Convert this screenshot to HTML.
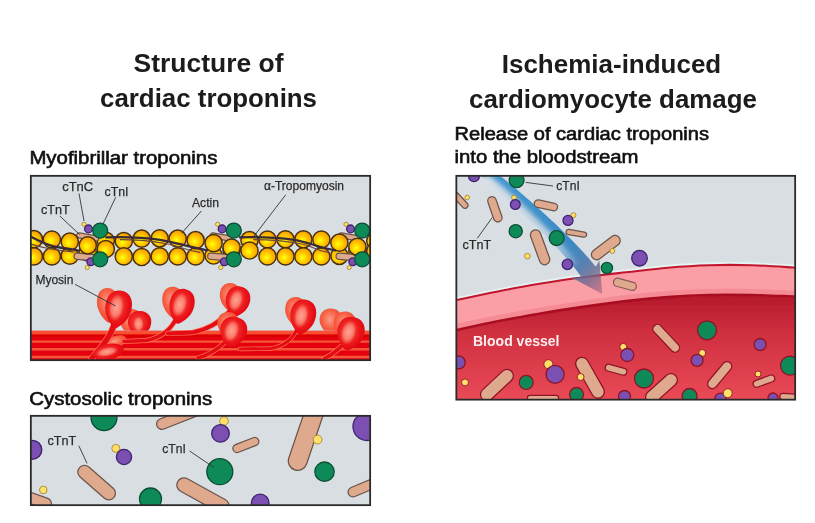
<!DOCTYPE html>
<html lang="en"><head><meta charset="utf-8"><title>Cardiac troponins</title>
<style>html,body{margin:0;padding:0;background:#fff;}svg{display:block;}text{font-family:'Liberation Sans', Arial, Helvetica, sans-serif;}</style></head><body>
<svg width="815" height="523" viewBox="0 0 815 523">
<defs>
<radialGradient id="gBall" cx="43%" cy="57%" r="58%"><stop offset="0" stop-color="#ffff10"/><stop offset="0.25" stop-color="#ffe600"/><stop offset="0.55" stop-color="#ffc200"/><stop offset="0.85" stop-color="#fba600"/><stop offset="1" stop-color="#ee9200"/></radialGradient>
<radialGradient id="gHead" cx="42%" cy="45%" r="62%"><stop offset="0" stop-color="#f4483c"/><stop offset="0.5" stop-color="#ee2424"/><stop offset="0.78" stop-color="#e80c14"/><stop offset="1" stop-color="#de0610"/></radialGradient>
<radialGradient id="gHeadB" cx="45%" cy="40%" r="65%"><stop offset="0" stop-color="#f89c86"/><stop offset="0.5" stop-color="#f86246"/><stop offset="1" stop-color="#ef3a24"/></radialGradient>
<radialGradient id="gHL" cx="50%" cy="50%" r="50%"><stop offset="0" stop-color="#ffa493" stop-opacity="1"/><stop offset="0.6" stop-color="#fc8272" stop-opacity="0.92"/><stop offset="0.85" stop-color="#f6584c" stop-opacity="0.6"/><stop offset="1" stop-color="#f0342e" stop-opacity="0"/></radialGradient>
<linearGradient id="gLumen" x1="0" y1="0" x2="0" y2="1"><stop offset="0" stop-color="#b3192a"/><stop offset="0.35" stop-color="#cf2f3f"/><stop offset="1" stop-color="#ea4a57"/></linearGradient>
<linearGradient id="gArrow" gradientUnits="userSpaceOnUse" x1="490" y1="176" x2="600" y2="292"><stop offset="0" stop-color="#3391cf"/><stop offset="0.66" stop-color="#2a80bf"/><stop offset="0.8" stop-color="#4777ad"/><stop offset="0.89" stop-color="#6f6a90" stop-opacity="0.92"/><stop offset="1" stop-color="#8a5872" stop-opacity="0.55"/></linearGradient>
<linearGradient id="gFade" gradientUnits="userSpaceOnUse" x1="480" y1="176" x2="590" y2="284"><stop offset="0" stop-color="#d9e0e6"/><stop offset="0.62" stop-color="#d3dde6" stop-opacity="0.85"/><stop offset="0.95" stop-color="#cfdce8" stop-opacity="0"/></linearGradient>
<filter id="fBlur3" x="-20%" y="-20%" width="140%" height="140%"><feGaussianBlur stdDeviation="2.6"/></filter>
<filter id="fSoft" x="-2%" y="-2%" width="104%" height="104%"><feGaussianBlur stdDeviation="0.6"/></filter>
<clipPath id="c1"><rect x="31" y="176" width="339" height="184"/></clipPath>
<clipPath id="cb1"><rect x="117" y="330.8" width="38" height="12"/><rect x="316" y="330.8" width="32" height="12"/></clipPath>
<clipPath id="c2"><rect x="31" y="416" width="339" height="89"/></clipPath>
<clipPath id="c3"><rect x="456.5" y="176" width="338.5" height="223.5"/></clipPath>
</defs>
<rect width="815" height="523" fill="#fff"/>
<g filter="url(#fSoft)">
<g font-weight="bold" font-size="26" fill="#1a1a1a" text-anchor="middle">
<text x="208.5" y="72" font-size="26" text-anchor="middle" fill="#1a1a1a" font-weight="bold" textLength="150" lengthAdjust="spacingAndGlyphs" >Structure of</text>
<text x="208.5" y="107" font-size="26" text-anchor="middle" fill="#1a1a1a" font-weight="bold" textLength="217" lengthAdjust="spacingAndGlyphs" >cardiac troponins</text>
<text x="611.5" y="72.5" font-size="26" text-anchor="middle" fill="#1a1a1a" font-weight="bold" textLength="219.5" lengthAdjust="spacingAndGlyphs" >Ischemia-induced</text>
<text x="613" y="107.5" font-size="26" text-anchor="middle" fill="#1a1a1a" font-weight="bold" textLength="288" lengthAdjust="spacingAndGlyphs" >cardiomyocyte damage</text>
</g>
<text x="29.4" y="163.7" font-size="18" text-anchor="start" fill="#111" font-weight="normal" textLength="188" lengthAdjust="spacingAndGlyphs" stroke="#111" stroke-width="0.6">Myofibrillar troponins</text>
<text x="29.2" y="404.8" font-size="18" text-anchor="start" fill="#111" font-weight="normal" textLength="183" lengthAdjust="spacingAndGlyphs" stroke="#111" stroke-width="0.6">Cystosolic troponins</text>
<text x="454.5" y="140.3" font-size="18" text-anchor="start" fill="#111" font-weight="normal" textLength="254.5" lengthAdjust="spacingAndGlyphs" stroke="#111" stroke-width="0.6">Release of cardiac troponins</text>
<text x="454.5" y="162.6" font-size="18" text-anchor="start" fill="#111" font-weight="normal" textLength="184" lengthAdjust="spacingAndGlyphs" stroke="#111" stroke-width="0.6">into the bloodstream</text>
<g id="panel1">
<rect x="30.85" y="175.85" width="339.3" height="184.3" fill="#d9dee2"/>
<g clip-path="url(#c1)">
<circle cx="69.8" cy="255.7" r="8.6" fill="url(#gBall)" stroke="#46300e" stroke-width="1.45"/>
<circle cx="87.8" cy="252.5" r="8.6" fill="url(#gBall)" stroke="#46300e" stroke-width="1.45"/>
<circle cx="105.8" cy="240.8" r="8.6" fill="url(#gBall)" stroke="#46300e" stroke-width="1.45"/>
<circle cx="123.8" cy="241.0" r="8.6" fill="url(#gBall)" stroke="#46300e" stroke-width="1.45"/>
<circle cx="141.7" cy="238.7" r="8.6" fill="url(#gBall)" stroke="#46300e" stroke-width="1.45"/>
<circle cx="159.7" cy="238.3" r="8.6" fill="url(#gBall)" stroke="#46300e" stroke-width="1.45"/>
<circle cx="177.7" cy="238.7" r="8.6" fill="url(#gBall)" stroke="#46300e" stroke-width="1.45"/>
<circle cx="195.6" cy="256.4" r="8.6" fill="url(#gBall)" stroke="#46300e" stroke-width="1.45"/>
<circle cx="213.6" cy="255.5" r="8.6" fill="url(#gBall)" stroke="#46300e" stroke-width="1.45"/>
<circle cx="231.6" cy="250.0" r="8.6" fill="url(#gBall)" stroke="#46300e" stroke-width="1.45"/>
<circle cx="249.5" cy="240.2" r="8.6" fill="url(#gBall)" stroke="#46300e" stroke-width="1.45"/>
<circle cx="267.5" cy="239.5" r="8.6" fill="url(#gBall)" stroke="#46300e" stroke-width="1.45"/>
<circle cx="285.5" cy="239.3" r="8.6" fill="url(#gBall)" stroke="#46300e" stroke-width="1.45"/>
<circle cx="303.4" cy="239.3" r="8.6" fill="url(#gBall)" stroke="#46300e" stroke-width="1.45"/>
<circle cx="321.4" cy="256.4" r="8.6" fill="url(#gBall)" stroke="#46300e" stroke-width="1.45"/>
<circle cx="339.4" cy="255.8" r="8.6" fill="url(#gBall)" stroke="#46300e" stroke-width="1.45"/>
<circle cx="357.4" cy="251.0" r="8.6" fill="url(#gBall)" stroke="#46300e" stroke-width="1.45"/>
<circle cx="375.3" cy="241.0" r="8.6" fill="url(#gBall)" stroke="#46300e" stroke-width="1.45"/>
<line x1="79.2" y1="235.4" x2="96.2" y2="238.5" stroke="#6b554b" stroke-width="6.4" stroke-linecap="round"/><line x1="79.2" y1="235.4" x2="96.2" y2="238.5" stroke="#dfa98e" stroke-width="3.9" stroke-linecap="round"/>
<line x1="77.2" y1="256.2" x2="92.2" y2="257.5" stroke="#6b554b" stroke-width="7.6" stroke-linecap="round"/><line x1="77.2" y1="256.2" x2="92.2" y2="257.5" stroke="#dfa98e" stroke-width="5.1" stroke-linecap="round"/>
<line x1="212.8" y1="235.4" x2="229.8" y2="238.5" stroke="#6b554b" stroke-width="6.4" stroke-linecap="round"/><line x1="212.8" y1="235.4" x2="229.8" y2="238.5" stroke="#dfa98e" stroke-width="3.9" stroke-linecap="round"/>
<line x1="210.8" y1="256.2" x2="225.8" y2="257.5" stroke="#6b554b" stroke-width="7.6" stroke-linecap="round"/><line x1="210.8" y1="256.2" x2="225.8" y2="257.5" stroke="#dfa98e" stroke-width="5.1" stroke-linecap="round"/>
<line x1="341.2" y1="235.4" x2="358.2" y2="238.5" stroke="#6b554b" stroke-width="6.4" stroke-linecap="round"/><line x1="341.2" y1="235.4" x2="358.2" y2="238.5" stroke="#dfa98e" stroke-width="3.9" stroke-linecap="round"/>
<line x1="339.2" y1="256.2" x2="354.2" y2="257.5" stroke="#6b554b" stroke-width="7.6" stroke-linecap="round"/><line x1="339.2" y1="256.2" x2="354.2" y2="257.5" stroke="#dfa98e" stroke-width="5.1" stroke-linecap="round"/>
<circle cx="33.9" cy="239.2" r="8.6" fill="url(#gBall)" stroke="#46300e" stroke-width="1.45"/>
<circle cx="33.9" cy="256.4" r="8.6" fill="url(#gBall)" stroke="#46300e" stroke-width="1.45"/>
<circle cx="51.9" cy="239.5" r="8.6" fill="url(#gBall)" stroke="#46300e" stroke-width="1.45"/>
<circle cx="51.9" cy="256.4" r="8.6" fill="url(#gBall)" stroke="#46300e" stroke-width="1.45"/>
<circle cx="69.8" cy="241.7" r="8.6" fill="url(#gBall)" stroke="#46300e" stroke-width="1.45"/>
<circle cx="87.8" cy="245.3" r="8.6" fill="url(#gBall)" stroke="#46300e" stroke-width="1.45"/>
<circle cx="105.8" cy="249.0" r="8.6" fill="url(#gBall)" stroke="#46300e" stroke-width="1.45"/>
<circle cx="123.8" cy="256.4" r="8.6" fill="url(#gBall)" stroke="#46300e" stroke-width="1.45"/>
<circle cx="141.7" cy="257.0" r="8.6" fill="url(#gBall)" stroke="#46300e" stroke-width="1.45"/>
<circle cx="159.7" cy="256.4" r="8.6" fill="url(#gBall)" stroke="#46300e" stroke-width="1.45"/>
<circle cx="177.7" cy="256.4" r="8.6" fill="url(#gBall)" stroke="#46300e" stroke-width="1.45"/>
<circle cx="195.6" cy="240.2" r="8.6" fill="url(#gBall)" stroke="#46300e" stroke-width="1.45"/>
<circle cx="213.6" cy="243.1" r="8.6" fill="url(#gBall)" stroke="#46300e" stroke-width="1.45"/>
<circle cx="231.6" cy="247.6" r="8.6" fill="url(#gBall)" stroke="#46300e" stroke-width="1.45"/>
<circle cx="249.5" cy="250.5" r="8.6" fill="url(#gBall)" stroke="#46300e" stroke-width="1.45"/>
<circle cx="267.5" cy="256.4" r="8.6" fill="url(#gBall)" stroke="#46300e" stroke-width="1.45"/>
<circle cx="285.5" cy="256.4" r="8.6" fill="url(#gBall)" stroke="#46300e" stroke-width="1.45"/>
<circle cx="303.4" cy="256.4" r="8.6" fill="url(#gBall)" stroke="#46300e" stroke-width="1.45"/>
<circle cx="321.4" cy="239.5" r="8.6" fill="url(#gBall)" stroke="#46300e" stroke-width="1.45"/>
<circle cx="339.4" cy="242.7" r="8.6" fill="url(#gBall)" stroke="#46300e" stroke-width="1.45"/>
<circle cx="357.4" cy="246.8" r="8.6" fill="url(#gBall)" stroke="#46300e" stroke-width="1.45"/>
<circle cx="375.3" cy="251.0" r="8.6" fill="url(#gBall)" stroke="#46300e" stroke-width="1.45"/>
<path d="M31,236.8 C38,240.5 46,245 56,246.8 S73,249.3 78,250.5" fill="none" stroke="#3a2c38" stroke-width="2.3" stroke-linecap="round"/>
<path d="M31,244 C45,249 60,250.5 74,252" fill="none" stroke="#6a4a3a" stroke-width="1.2" stroke-linecap="round"/>
<path d="M106.2,237.3 C130.2,236.8 148.2,238 160.2,239.8 S188.8,247 206.8,250.3" fill="none" stroke="#3a2c38" stroke-width="2.3" stroke-linecap="round"/>
<path d="M120.2,239.6 C140.2,239.6 155.2,241.5 168.2,244 S183.8,250 199.8,252.3" fill="none" stroke="#6a4a3a" stroke-width="1.2" stroke-linecap="round"/>
<path d="M239.8,237.3 C263.8,236.8 281.8,238 293.8,239.8 S317.2,247 335.2,250.3" fill="none" stroke="#3a2c38" stroke-width="2.3" stroke-linecap="round"/>
<path d="M253.8,239.6 C273.8,239.6 288.8,241.5 301.8,244 S312.2,250 328.2,252.3" fill="none" stroke="#6a4a3a" stroke-width="1.2" stroke-linecap="round"/>
<circle cx="84.0" cy="224.3" r="2.1" fill="#ffe169" stroke="#a88632" stroke-width="0.9" />
<circle cx="88.5" cy="228.9" r="3.9" fill="#7b4fb3" stroke="#3e2370" stroke-width="1.3" />
<circle cx="100.2" cy="230.6" r="7.5" fill="#0f8a58" stroke="#0b4f33" stroke-width="1.3" />
<circle cx="87.2" cy="267.5" r="2.1" fill="#ffe169" stroke="#a88632" stroke-width="0.9" />
<circle cx="90.8" cy="261.8" r="3.9" fill="#7b4fb3" stroke="#3e2370" stroke-width="1.3" />
<circle cx="100.2" cy="259.3" r="7.5" fill="#0f8a58" stroke="#0b4f33" stroke-width="1.3" />
<circle cx="217.6" cy="224.3" r="2.1" fill="#ffe169" stroke="#a88632" stroke-width="0.9" />
<circle cx="222.1" cy="228.9" r="3.9" fill="#7b4fb3" stroke="#3e2370" stroke-width="1.3" />
<circle cx="233.8" cy="230.6" r="7.5" fill="#0f8a58" stroke="#0b4f33" stroke-width="1.3" />
<circle cx="220.8" cy="267.5" r="2.1" fill="#ffe169" stroke="#a88632" stroke-width="0.9" />
<circle cx="224.4" cy="261.8" r="3.9" fill="#7b4fb3" stroke="#3e2370" stroke-width="1.3" />
<circle cx="233.8" cy="259.3" r="7.5" fill="#0f8a58" stroke="#0b4f33" stroke-width="1.3" />
<circle cx="346.0" cy="224.3" r="2.1" fill="#ffe169" stroke="#a88632" stroke-width="0.9" />
<circle cx="350.5" cy="228.9" r="3.9" fill="#7b4fb3" stroke="#3e2370" stroke-width="1.3" />
<circle cx="362.2" cy="230.6" r="7.5" fill="#0f8a58" stroke="#0b4f33" stroke-width="1.3" />
<circle cx="349.2" cy="267.5" r="2.1" fill="#ffe169" stroke="#a88632" stroke-width="0.9" />
<circle cx="352.8" cy="261.8" r="3.9" fill="#7b4fb3" stroke="#3e2370" stroke-width="1.3" />
<circle cx="362.2" cy="259.3" r="7.5" fill="#0f8a58" stroke="#0b4f33" stroke-width="1.3" />
<path d="M0,-13 C10.45,-13 12.32,-3.25 10.67,2.34 C9.02,8.06 4.62,11.70 1.32,14.04 L-1.32,14.04 C-4.62,11.70 -9.02,8.06 -10.67,2.34 C-12.32,-3.25 -10.45,-13 0,-13 Z" fill="none" stroke="#cde4e7" stroke-width="1.8" transform="translate(131.5 322) rotate(-4)"/>
<path d="M0,-12.5 C10.92,-12.5 12.88,-3.12 11.15,2.25 C9.43,7.75 4.83,11.25 1.38,13.50 L-1.38,13.50 C-4.83,11.25 -9.43,7.75 -11.15,2.25 C-12.88,-3.12 -10.92,-12.5 0,-12.5 Z" fill="none" stroke="#cde4e7" stroke-width="1.8" transform="translate(139.5 323.5) rotate(6)"/>
<path d="M0,-13 C10.45,-13 12.32,-3.25 10.67,2.34 C9.02,8.06 4.62,11.70 1.32,14.04 L-1.32,14.04 C-4.62,11.70 -9.02,8.06 -10.67,2.34 C-12.32,-3.25 -10.45,-13 0,-13 Z" fill="none" stroke="#cde4e7" stroke-width="1.8" transform="translate(331 321.5) rotate(-4)"/>
<path d="M0,-16.6 C10.07,-16.6 11.87,-4.15 10.28,2.99 C8.69,10.29 4.45,14.94 1.27,17.93 L-1.27,17.93 C-4.45,14.94 -8.69,10.29 -10.28,2.99 C-11.87,-4.15 -10.07,-16.6 0,-16.6 Z" fill="none" stroke="#cde4e7" stroke-width="1.8" transform="translate(108 304.5) rotate(-4)"/>
<path d="M0,-18 C12.35,-18 14.56,-4.50 12.61,3.24 C10.66,11.16 5.46,16.20 1.56,19.44 L-1.56,19.44 C-5.46,16.20 -10.66,11.16 -12.61,3.24 C-14.56,-4.50 -12.35,-18 0,-18 Z" fill="none" stroke="#cde4e7" stroke-width="1.8" transform="translate(118.3 308.5) rotate(10)"/>
<path d="M0,-15.2 C9.88,-15.2 11.65,-3.80 10.09,2.74 C8.53,9.42 4.37,13.68 1.25,16.42 L-1.25,16.42 C-4.37,13.68 -8.53,9.42 -10.09,2.74 C-11.65,-3.80 -9.88,-15.2 0,-15.2 Z" fill="none" stroke="#cde4e7" stroke-width="1.8" transform="translate(173 302) rotate(-4)"/>
<path d="M0,-17 C11.59,-17 13.66,-4.25 11.83,3.06 C10.00,10.54 5.12,15.30 1.46,18.36 L-1.46,18.36 C-5.12,15.30 -10.00,10.54 -11.83,3.06 C-13.66,-4.25 -11.59,-17 0,-17 Z" fill="none" stroke="#cde4e7" stroke-width="1.8" transform="translate(181.6 305.7) rotate(14)"/>
<path d="M0,-14 C9.88,-14 11.65,-3.50 10.09,2.52 C8.53,8.68 4.37,12.60 1.25,15.12 L-1.25,15.12 C-4.37,12.60 -8.53,8.68 -10.09,2.52 C-11.65,-3.50 -9.88,-14 0,-14 Z" fill="none" stroke="#cde4e7" stroke-width="1.8" transform="translate(230.6 297) rotate(-4)"/>
<path d="M0,-14.8 C11.40,-14.8 13.44,-3.70 11.64,2.66 C9.84,9.18 5.04,13.32 1.44,15.98 L-1.44,15.98 C-5.04,13.32 -9.84,9.18 -11.64,2.66 C-13.44,-3.70 -11.40,-14.8 0,-14.8 Z" fill="none" stroke="#cde4e7" stroke-width="1.8" transform="translate(237.6 301) rotate(14)"/>
<path d="M0,-12.5 C9.97,-12.5 11.76,-3.12 10.19,2.25 C8.61,7.75 4.41,11.25 1.26,13.50 L-1.26,13.50 C-4.41,11.25 -8.61,7.75 -10.19,2.25 C-11.76,-3.12 -9.97,-12.5 0,-12.5 Z" fill="none" stroke="#cde4e7" stroke-width="1.8" transform="translate(228.3 324.5) rotate(-4)"/>
<path d="M0,-14.8 C12.54,-14.8 14.78,-3.70 12.80,2.66 C10.82,9.18 5.54,13.32 1.58,15.98 L-1.58,15.98 C-5.54,13.32 -10.82,9.18 -12.80,2.66 C-14.78,-3.70 -12.54,-14.8 0,-14.8 Z" fill="none" stroke="#cde4e7" stroke-width="1.8" transform="translate(233.4 331.5) rotate(14)"/>
<path d="M0,-14.6 C9.88,-14.6 11.65,-3.65 10.09,2.63 C8.53,9.05 4.37,13.14 1.25,15.77 L-1.25,15.77 C-4.37,13.14 -8.53,9.05 -10.09,2.63 C-11.65,-3.65 -9.88,-14.6 0,-14.6 Z" fill="none" stroke="#cde4e7" stroke-width="1.8" transform="translate(296 311.5) rotate(-4)"/>
<path d="M0,-16.8 C11.97,-16.8 14.11,-4.20 12.22,3.02 C10.33,10.42 5.29,15.12 1.51,18.14 L-1.51,18.14 C-5.29,15.12 -10.33,10.42 -12.22,3.02 C-14.11,-4.20 -11.97,-16.8 0,-16.8 Z" fill="none" stroke="#cde4e7" stroke-width="1.8" transform="translate(303 316.4) rotate(10)"/>
<path d="M0,-13.5 C10.45,-13.5 12.32,-3.38 10.67,2.43 C9.02,8.37 4.62,12.15 1.32,14.58 L-1.32,14.58 C-4.62,12.15 -9.02,8.37 -10.67,2.43 C-12.32,-3.38 -10.45,-13.5 0,-13.5 Z" fill="none" stroke="#cde4e7" stroke-width="1.8" transform="translate(345 325) rotate(-2)"/>
<path d="M0,-16.2 C12.73,-16.2 15.01,-4.05 13.00,2.92 C10.99,10.04 5.63,14.58 1.61,17.50 L-1.61,17.50 C-5.63,14.58 -10.99,10.04 -13.00,2.92 C-15.01,-4.05 -12.73,-16.2 0,-16.2 Z" fill="none" stroke="#cde4e7" stroke-width="1.8" transform="translate(350.6 333) rotate(14)"/>
<rect x="30" y="329.6" width="341" height="1.4" fill="#d3e8ea"/><rect x="30" y="330.8" width="341" height="30" fill="#e40409"/><rect x="30" y="330.8" width="341" height="3.8" fill="#fa5030"/><rect x="30" y="334.6" width="341" height="2.2" fill="#d80006"/><line x1="30" y1="341.7" x2="371" y2="341.7" stroke="#f4563b" stroke-width="2.2"/><line x1="30" y1="349.3" x2="371" y2="349.3" stroke="#f4563b" stroke-width="2.4"/><line x1="30" y1="357" x2="371" y2="357" stroke="#f4563b" stroke-width="2.4"/>
<path d="M0,-13 C10.45,-13 12.32,-3.25 10.67,2.34 C9.02,8.06 4.62,11.70 1.32,14.04 L-1.32,14.04 C-4.62,11.70 -9.02,8.06 -10.67,2.34 C-12.32,-3.25 -10.45,-13 0,-13 Z" fill="url(#gHeadB)" transform="translate(131.5 322) rotate(-4)" />
<path d="M0,-12.5 C10.92,-12.5 12.88,-3.12 11.15,2.25 C9.43,7.75 4.83,11.25 1.38,13.50 L-1.38,13.50 C-4.83,11.25 -9.43,7.75 -11.15,2.25 C-12.88,-3.12 -10.92,-12.5 0,-12.5 Z" fill="url(#gHead)" transform="translate(139.5 323.5) rotate(6)" />
<ellipse cx="138.5" cy="324" rx="5.5" ry="8" fill="url(#gHL)"/>
<path d="M0,-13 C10.45,-13 12.32,-3.25 10.67,2.34 C9.02,8.06 4.62,11.70 1.32,14.04 L-1.32,14.04 C-4.62,11.70 -9.02,8.06 -10.67,2.34 C-12.32,-3.25 -10.45,-13 0,-13 Z" fill="url(#gHeadB)" transform="translate(331 321.5) rotate(-4)" />
<g clip-path="url(#cb1)"><rect x="30" y="329.6" width="341" height="1.4" fill="#d3e8ea"/><rect x="30" y="330.8" width="341" height="30" fill="#e40409"/><rect x="30" y="330.8" width="341" height="3.8" fill="#fa5030"/><rect x="30" y="334.6" width="341" height="2.2" fill="#d80006"/><line x1="30" y1="341.7" x2="371" y2="341.7" stroke="#f4563b" stroke-width="2.2"/><line x1="30" y1="349.3" x2="371" y2="349.3" stroke="#f4563b" stroke-width="2.4"/><line x1="30" y1="357" x2="371" y2="357" stroke="#f4563b" stroke-width="2.4"/></g>
<ellipse cx="116" cy="342" rx="11" ry="6" fill="url(#gHeadB)" transform="rotate(-20 116 342)" />
<path d="M0,-16.6 C10.07,-16.6 11.87,-4.15 10.28,2.99 C8.69,10.29 4.45,14.94 1.27,17.93 L-1.27,17.93 C-4.45,14.94 -8.69,10.29 -10.28,2.99 C-11.87,-4.15 -10.07,-16.6 0,-16.6 Z" fill="url(#gHeadB)" transform="translate(108 304.5) rotate(-4)" />
<path d="M114.5,323 C112,334 104,345 92,358" fill="none" stroke="#ff7458" stroke-width="6.8" stroke-linecap="round"/><path d="M114.5,323 C112,334 104,345 92,358" fill="none" stroke="#e30b12" stroke-width="5.5" stroke-linecap="round"/>
<path d="M0,-18 C12.35,-18 14.56,-4.50 12.61,3.24 C10.66,11.16 5.46,16.20 1.56,19.44 L-1.56,19.44 C-5.46,16.20 -10.66,11.16 -12.61,3.24 C-14.56,-4.50 -12.35,-18 0,-18 Z" fill="url(#gHead)" transform="translate(118.3 308.5) rotate(10)" />
<ellipse cx="116.3" cy="307.5" rx="7.8" ry="13.8" fill="url(#gHL)" transform="rotate(10 116.3 307.5)"/>
<ellipse cx="108.5" cy="351.8" rx="15.5" ry="7.8" fill="url(#gHead)" transform="rotate(-12 108.5 351.8)" />
<ellipse cx="107" cy="351.8" rx="11.2" ry="4.6" fill="url(#gHL)" transform="rotate(-12 107 351.8)"/>
<path d="M0,-15.2 C9.88,-15.2 11.65,-3.80 10.09,2.74 C8.53,9.42 4.37,13.68 1.25,16.42 L-1.25,16.42 C-4.37,13.68 -8.53,9.42 -10.09,2.74 C-11.65,-3.80 -9.88,-15.2 0,-15.2 Z" fill="url(#gHeadB)" transform="translate(173 302) rotate(-4)" />
<path d="M175.5,320 C170,330 160,338 146,340.5 L124,341.5" fill="none" stroke="#ff7458" stroke-width="4.9" stroke-linecap="round"/><path d="M175.5,320 C170,330 160,338 146,340.5 L124,341.5" fill="none" stroke="#e30b12" stroke-width="3.6" stroke-linecap="round"/>
<path d="M0,-17 C11.59,-17 13.66,-4.25 11.83,3.06 C10.00,10.54 5.12,15.30 1.46,18.36 L-1.46,18.36 C-5.12,15.30 -10.00,10.54 -11.83,3.06 C-13.66,-4.25 -11.59,-17 0,-17 Z" fill="url(#gHead)" transform="translate(181.6 305.7) rotate(14)" />
<ellipse cx="179.8" cy="304.7" rx="7.2" ry="12.6" fill="url(#gHL)" transform="rotate(16 179.8 304.7)"/>
<path d="M0,-14 C9.88,-14 11.65,-3.50 10.09,2.52 C8.53,8.68 4.37,12.60 1.25,15.12 L-1.25,15.12 C-4.37,12.60 -8.53,8.68 -10.09,2.52 C-11.65,-3.50 -9.88,-14 0,-14 Z" fill="url(#gHeadB)" transform="translate(230.6 297) rotate(-4)" />
<path d="M229.5,311.5 C220,322 208,329.5 192,332.6 L168,333.4" fill="none" stroke="#ff7458" stroke-width="5.3" stroke-linecap="round"/><path d="M229.5,311.5 C220,322 208,329.5 192,332.6 L168,333.4" fill="none" stroke="#e30b12" stroke-width="4.0" stroke-linecap="round"/>
<path d="M0,-14.8 C11.40,-14.8 13.44,-3.70 11.64,2.66 C9.84,9.18 5.04,13.32 1.44,15.98 L-1.44,15.98 C-5.04,13.32 -9.84,9.18 -11.64,2.66 C-13.44,-3.70 -11.40,-14.8 0,-14.8 Z" fill="url(#gHead)" transform="translate(237.6 301) rotate(14)" />
<ellipse cx="236" cy="300.3" rx="7.0" ry="11.3" fill="url(#gHL)" transform="rotate(16 236 300.3)"/>
<path d="M0,-12.5 C9.97,-12.5 11.76,-3.12 10.19,2.25 C8.61,7.75 4.41,11.25 1.26,13.50 L-1.26,13.50 C-4.41,11.25 -8.61,7.75 -10.19,2.25 C-11.76,-3.12 -9.97,-12.5 0,-12.5 Z" fill="url(#gHeadB)" transform="translate(228.3 324.5) rotate(-4)" />
<path d="M224,343 C216,351 208,355 198,358" fill="none" stroke="#ff7458" stroke-width="4.9" stroke-linecap="round"/><path d="M224,343 C216,351 208,355 198,358" fill="none" stroke="#e30b12" stroke-width="3.6" stroke-linecap="round"/>
<path d="M0,-14.8 C12.54,-14.8 14.78,-3.70 12.80,2.66 C10.82,9.18 5.54,13.32 1.58,15.98 L-1.58,15.98 C-5.54,13.32 -10.82,9.18 -12.80,2.66 C-14.78,-3.70 -12.54,-14.8 0,-14.8 Z" fill="url(#gHead)" transform="translate(233.4 331.5) rotate(14)" />
<ellipse cx="231.6" cy="330.8" rx="7.5" ry="11.3" fill="url(#gHL)" transform="rotate(16 231.6 330.8)"/>
<path d="M0,-14.6 C9.88,-14.6 11.65,-3.65 10.09,2.63 C8.53,9.05 4.37,13.14 1.25,15.77 L-1.25,15.77 C-4.37,13.14 -8.53,9.05 -10.09,2.63 C-11.65,-3.65 -9.88,-14.6 0,-14.6 Z" fill="url(#gHeadB)" transform="translate(296 311.5) rotate(-4)" />
<path d="M296,331.5 C290,342 282,347 270,348.5 L240,349" fill="none" stroke="#ff7458" stroke-width="4.5" stroke-linecap="round"/><path d="M296,331.5 C290,342 282,347 270,348.5 L240,349" fill="none" stroke="#e30b12" stroke-width="3.2" stroke-linecap="round"/>
<path d="M0,-16.8 C11.97,-16.8 14.11,-4.20 12.22,3.02 C10.33,10.42 5.29,15.12 1.51,18.14 L-1.51,18.14 C-5.29,15.12 -10.33,10.42 -12.22,3.02 C-14.11,-4.20 -11.97,-16.8 0,-16.8 Z" fill="url(#gHead)" transform="translate(303 316.4) rotate(10)" />
<ellipse cx="301.2" cy="315.8" rx="7.2" ry="12.5" fill="url(#gHL)" transform="rotate(12 301.2 315.8)"/>
<path d="M0,-13.5 C10.45,-13.5 12.32,-3.38 10.67,2.43 C9.02,8.37 4.62,12.15 1.32,14.58 L-1.32,14.58 C-4.62,12.15 -9.02,8.37 -10.67,2.43 C-12.32,-3.38 -10.45,-13.5 0,-13.5 Z" fill="url(#gHeadB)" transform="translate(345 325) rotate(-2)" />
<path d="M341.5,346 C337,351 331,355 324,359" fill="none" stroke="#ff7458" stroke-width="4.9" stroke-linecap="round"/><path d="M341.5,346 C337,351 331,355 324,359" fill="none" stroke="#e30b12" stroke-width="3.6" stroke-linecap="round"/>
<path d="M0,-16.2 C12.73,-16.2 15.01,-4.05 13.00,2.92 C10.99,10.04 5.63,14.58 1.61,17.50 L-1.61,17.50 C-5.63,14.58 -10.99,10.04 -13.00,2.92 C-15.01,-4.05 -12.73,-16.2 0,-16.2 Z" fill="url(#gHead)" transform="translate(350.6 333) rotate(14)" />
<ellipse cx="348.6" cy="332.3" rx="7.8" ry="12.5" fill="url(#gHL)" transform="rotate(16 348.6 332.3)"/>
<line x1="79" y1="193.5" x2="84" y2="221" stroke="#333" stroke-width="0.9"/>
<line x1="115.7" y1="197.3" x2="103.4" y2="223.2" stroke="#333" stroke-width="0.9"/>
<line x1="59.8" y1="216" x2="79.6" y2="234.5" stroke="#333" stroke-width="0.9"/>
<line x1="201.4" y1="211" x2="181.5" y2="233.3" stroke="#333" stroke-width="0.9"/>
<line x1="285.7" y1="194.8" x2="253.4" y2="237" stroke="#333" stroke-width="0.9"/>
<line x1="75" y1="284.3" x2="115.6" y2="306" stroke="#333" stroke-width="0.9"/>
<text x="62.2" y="191" font-size="13" text-anchor="start" fill="#2b2b2b" font-weight="normal" textLength="31" lengthAdjust="spacingAndGlyphs" stroke="#2b2b2b" stroke-width="0.25">cTnC</text>
<text x="104.5" y="196" font-size="13" text-anchor="start" fill="#2b2b2b" font-weight="normal" textLength="24" lengthAdjust="spacingAndGlyphs" stroke="#2b2b2b" stroke-width="0.25">cTnI</text>
<text x="41" y="214.2" font-size="13" text-anchor="start" fill="#2b2b2b" font-weight="normal" textLength="28.7" lengthAdjust="spacingAndGlyphs" stroke="#2b2b2b" stroke-width="0.25">cTnT</text>
<text x="192" y="207.2" font-size="13" text-anchor="start" fill="#2b2b2b" font-weight="normal" textLength="27" lengthAdjust="spacingAndGlyphs" stroke="#2b2b2b" stroke-width="0.25">Actin</text>
<text x="264" y="189.8" font-size="13" text-anchor="start" fill="#2b2b2b" font-weight="normal" textLength="80" lengthAdjust="spacingAndGlyphs" stroke="#2b2b2b" stroke-width="0.25">α-Tropomyosin</text>
<text x="35.4" y="284.3" font-size="13" text-anchor="start" fill="#2b2b2b" font-weight="normal" textLength="38" lengthAdjust="spacingAndGlyphs" stroke="#2b2b2b" stroke-width="0.25">Myosin</text>
</g>
<rect x="30.85" y="175.85" width="339.3" height="184.3" fill="none" stroke="#2c2c2c" stroke-width="1.8"/>
</g>
<g id="panel2">
<rect x="30.85" y="415.85" width="339.3" height="89.3" fill="#d9dee2"/>
<g clip-path="url(#c2)">
<circle cx="104.0" cy="417.5" r="13.0" fill="#0f8a58" stroke="#0b4f33" stroke-width="1.3" />
<line x1="162.0" y1="424.0" x2="200.0" y2="409.0" stroke="#6b554b" stroke-width="12.0" stroke-linecap="round"/><line x1="162.0" y1="424.0" x2="200.0" y2="409.0" stroke="#dfa98e" stroke-width="9.5" stroke-linecap="round"/>
<circle cx="32.3" cy="449.8" r="9.5" fill="#7b4fb3" stroke="#3e2370" stroke-width="1.3" />
<circle cx="115.8" cy="448.4" r="4.0" fill="#ffe169" stroke="#a88632" stroke-width="0.9" />
<circle cx="124.0" cy="457.0" r="7.6" fill="#7b4fb3" stroke="#3e2370" stroke-width="1.3" />
<line x1="84.5" y1="472.0" x2="108.8" y2="493.3" stroke="#6b554b" stroke-width="14.5" stroke-linecap="round"/><line x1="84.5" y1="472.0" x2="108.8" y2="493.3" stroke="#dfa98e" stroke-width="12.0" stroke-linecap="round"/>
<circle cx="43.3" cy="490.0" r="3.8" fill="#ffe169" stroke="#a88632" stroke-width="0.9" />
<line x1="28.0" y1="497.0" x2="46.0" y2="503.5" stroke="#6b554b" stroke-width="12.0" stroke-linecap="round"/><line x1="28.0" y1="497.0" x2="46.0" y2="503.5" stroke="#dfa98e" stroke-width="9.5" stroke-linecap="round"/>
<circle cx="150.5" cy="499.0" r="11.0" fill="#0f8a58" stroke="#0b4f33" stroke-width="1.3" />
<line x1="184.0" y1="485.0" x2="222.0" y2="506.0" stroke="#6b554b" stroke-width="15.5" stroke-linecap="round"/><line x1="184.0" y1="485.0" x2="222.0" y2="506.0" stroke="#dfa98e" stroke-width="13.0" stroke-linecap="round"/>
<circle cx="219.8" cy="471.7" r="13.0" fill="#0f8a58" stroke="#0b4f33" stroke-width="1.3" />
<circle cx="224.0" cy="421.0" r="4.3" fill="#ffe169" stroke="#a88632" stroke-width="0.9" />
<circle cx="220.5" cy="433.4" r="8.8" fill="#7b4fb3" stroke="#3e2370" stroke-width="1.3" />
<line x1="237.0" y1="448.4" x2="254.7" y2="441.6" stroke="#6b554b" stroke-width="9.5" stroke-linecap="round"/><line x1="237.0" y1="448.4" x2="254.7" y2="441.6" stroke="#dfa98e" stroke-width="7.0" stroke-linecap="round"/>
<circle cx="260.2" cy="503.0" r="8.8" fill="#7b4fb3" stroke="#3e2370" stroke-width="1.3" />
<line x1="314.0" y1="413.0" x2="297.7" y2="461.0" stroke="#6b554b" stroke-width="20.0" stroke-linecap="round"/><line x1="314.0" y1="413.0" x2="297.7" y2="461.0" stroke="#dfa98e" stroke-width="17.5" stroke-linecap="round"/>
<circle cx="317.6" cy="439.6" r="4.4" fill="#ffe169" stroke="#a88632" stroke-width="0.9" />
<circle cx="324.5" cy="471.7" r="9.7" fill="#0f8a58" stroke="#0b4f33" stroke-width="1.3" />
<circle cx="367.0" cy="426.5" r="14.0" fill="#7b4fb3" stroke="#3e2370" stroke-width="1.3" />
<line x1="353.0" y1="492.0" x2="372.0" y2="484.0" stroke="#6b554b" stroke-width="11.0" stroke-linecap="round"/><line x1="353.0" y1="492.0" x2="372.0" y2="484.0" stroke="#dfa98e" stroke-width="8.5" stroke-linecap="round"/>
<line x1="78.8" y1="445.7" x2="87" y2="463.4" stroke="#333" stroke-width="0.9"/>
<line x1="189.6" y1="451" x2="214" y2="467.5" stroke="#333" stroke-width="0.9"/>
<text x="47.4" y="445" font-size="13" text-anchor="start" fill="#2b2b2b" font-weight="normal" textLength="28.7" lengthAdjust="spacingAndGlyphs" stroke="#2b2b2b" stroke-width="0.25">cTnT</text>
<text x="162.3" y="452.5" font-size="13" text-anchor="start" fill="#2b2b2b" font-weight="normal" textLength="23.5" lengthAdjust="spacingAndGlyphs" stroke="#2b2b2b" stroke-width="0.25">cTnI</text>
</g>
<rect x="30.85" y="415.85" width="339.3" height="89.3" fill="none" stroke="#2c2c2c" stroke-width="1.8"/>
</g>
<g id="panel3">
<rect x="456.35" y="175.85" width="338.8" height="223.8" fill="#d9dee2"/>
<g clip-path="url(#c3)">
<path d="M450.0,301.5 C451.3,301.2 450.1,301.5 458.0,299.8 C465.9,298.1 484.1,294.2 497.7,291.5 C511.3,288.8 525.5,286.1 539.4,283.8 C553.3,281.5 566.8,279.4 581.2,277.5 C595.6,275.6 611.6,273.9 626.0,272.3 C640.4,270.7 653.8,268.9 667.7,267.7 C681.6,266.5 695.5,265.6 709.4,265.2 C723.3,264.8 737.3,264.8 751.2,265.2 C765.1,265.6 784.8,267.0 792.9,267.5 C801.0,268.0 798.8,268.1 800.0,268.2 L800,400 L450,400 Z" fill="#fb9ea5"/>
<path d="M450.0,301.5 C451.3,301.2 450.1,301.5 458.0,299.8 C465.9,298.1 484.1,294.2 497.7,291.5 C511.3,288.8 525.5,286.1 539.4,283.8 C553.3,281.5 566.8,279.4 581.2,277.5 C595.6,275.6 611.6,273.9 626.0,272.3 C640.4,270.7 653.8,268.9 667.7,267.7 C681.6,266.5 695.5,265.6 709.4,265.2 C723.3,264.8 737.3,264.8 751.2,265.2 C765.1,265.6 784.8,267.0 792.9,267.5 C801.0,268.0 798.8,268.1 800.0,268.2" fill="none" stroke="#e6f3f3" stroke-width="3.2" transform="translate(0,-1.3)"/>
<path d="M450.0,301.5 C451.3,301.2 450.1,301.5 458.0,299.8 C465.9,298.1 484.1,294.2 497.7,291.5 C511.3,288.8 525.5,286.1 539.4,283.8 C553.3,281.5 566.8,279.4 581.2,277.5 C595.6,275.6 611.6,273.9 626.0,272.3 C640.4,270.7 653.8,268.9 667.7,267.7 C681.6,266.5 695.5,265.6 709.4,265.2 C723.3,264.8 737.3,264.8 751.2,265.2 C765.1,265.6 784.8,267.0 792.9,267.5 C801.0,268.0 798.8,268.1 800.0,268.2" fill="none" stroke="#c2182e" stroke-width="2.1"/>
<path d="M450.0,331.4 C451.3,331.1 450.1,331.4 458.0,329.7 C465.9,328.0 484.1,323.9 497.7,321.3 C511.3,318.7 525.5,316.2 539.4,313.8 C553.3,311.4 566.8,309.2 581.2,307.1 C595.6,305.0 611.6,302.8 626.0,301.1 C640.4,299.4 653.8,298.1 667.7,297.1 C681.6,296.1 695.5,295.4 709.4,295.0 C723.3,294.6 737.3,294.8 751.2,295.0 C765.1,295.2 784.8,296.2 792.9,296.5 C801.0,296.8 798.8,296.9 800.0,297.0 L800,400 L450,400 Z" fill="url(#gLumen)"/>
<path d="M450.0,331.4 C451.3,331.1 450.1,331.4 458.0,329.7 C465.9,328.0 484.1,323.9 497.7,321.3 C511.3,318.7 525.5,316.2 539.4,313.8 C553.3,311.4 566.8,309.2 581.2,307.1 C595.6,305.0 611.6,302.8 626.0,301.1 C640.4,299.4 653.8,298.1 667.7,297.1 C681.6,296.1 695.5,295.4 709.4,295.0 C723.3,294.6 737.3,294.8 751.2,295.0 C765.1,295.2 784.8,296.2 792.9,296.5 C801.0,296.8 798.8,296.9 800.0,297.0" fill="none" stroke="#ee7c88" stroke-width="7" opacity="0.55" transform="translate(0,-2.5)"/>
<path d="M450.0,331.4 C451.3,331.1 450.1,331.4 458.0,329.7 C465.9,328.0 484.1,323.9 497.7,321.3 C511.3,318.7 525.5,316.2 539.4,313.8 C553.3,311.4 566.8,309.2 581.2,307.1 C595.6,305.0 611.6,302.8 626.0,301.1 C640.4,299.4 653.8,298.1 667.7,297.1 C681.6,296.1 695.5,295.4 709.4,295.0 C723.3,294.6 737.3,294.8 751.2,295.0 C765.1,295.2 784.8,296.2 792.9,296.5 C801.0,296.8 798.8,296.9 800.0,297.0" fill="none" stroke="#a90d20" stroke-width="2.6"/>
<clipPath id="cArrow"><path d="M489.7,167.8 L493.4,170.6 L497.4,173.6 L501.6,176.9 L505.9,180.4 L510.5,184.2 L515.2,188.1 L520.0,192.2 L524.9,196.4 L529.9,200.8 L534.9,205.2 L540.0,209.7 L545.0,214.3 L550.0,219.0 L555.0,223.6 L559.8,228.3 L564.6,232.9 L569.2,237.5 L573.7,242.0 L577.9,246.4 L582.0,250.8 L585.8,255.0 L589.4,259.1 L592.7,263.0 L595.7,266.8 L599.4,260.5 L602.3,294.0 L571.9,277.7 L581.5,277.2 L579.0,273.7 L576.2,269.9 L573.0,266.0 L569.5,261.8 L565.8,257.5 L561.9,253.1 L557.7,248.5 L553.4,243.9 L548.9,239.2 L544.3,234.5 L539.6,229.8 L534.8,225.1 L530.0,220.4 L525.2,215.7 L520.4,211.2 L515.7,206.7 L511.0,202.4 L506.4,198.2 L501.9,194.2 L497.6,190.3 L493.4,186.7 L489.5,183.3 L485.8,180.1 L482.3,177.2 Z"/></clipPath>
<path d="M489.7,167.8 L493.4,170.6 L497.4,173.6 L501.6,176.9 L505.9,180.4 L510.5,184.2 L515.2,188.1 L520.0,192.2 L524.9,196.4 L529.9,200.8 L534.9,205.2 L540.0,209.7 L545.0,214.3 L550.0,219.0 L555.0,223.6 L559.8,228.3 L564.6,232.9 L569.2,237.5 L573.7,242.0 L577.9,246.4 L582.0,250.8 L585.8,255.0 L589.4,259.1 L592.7,263.0 L595.7,266.8 L599.4,260.5 L602.3,294.0 L571.9,277.7 L581.5,277.2 L579.0,273.7 L576.2,269.9 L573.0,266.0 L569.5,261.8 L565.8,257.5 L561.9,253.1 L557.7,248.5 L553.4,243.9 L548.9,239.2 L544.3,234.5 L539.6,229.8 L534.8,225.1 L530.0,220.4 L525.2,215.7 L520.4,211.2 L515.7,206.7 L511.0,202.4 L506.4,198.2 L501.9,194.2 L497.6,190.3 L493.4,186.7 L489.5,183.3 L485.8,180.1 L482.3,177.2 Z" fill="url(#gArrow)" opacity="0.9"/>
<path d="M482.3,177.2 L485.8,180.1 L489.5,183.3 L493.4,186.7 L497.6,190.3 L501.9,194.2 L506.4,198.2 L511.0,202.4 L515.7,206.7 L520.4,211.2 L525.2,215.7 L530.0,220.4 L534.8,225.1 L539.6,229.8 L544.3,234.5 L548.9,239.2 L553.4,243.9 L557.7,248.5 L561.9,253.1 L565.8,257.5 L569.5,261.8 L573.0,266.0" fill="none" stroke="url(#gFade)" stroke-width="12" filter="url(#fBlur3)" opacity="1"/>
<circle cx="474.0" cy="176.3" r="5.4" fill="#7b4fb3" stroke="#3e2370" stroke-width="1.3" />
<line x1="455.0" y1="194.5" x2="465.0" y2="205.3" stroke="#6b554b" stroke-width="7.2" stroke-linecap="round"/><line x1="455.0" y1="194.5" x2="465.0" y2="205.3" stroke="#dfa98e" stroke-width="4.7" stroke-linecap="round"/>
<circle cx="467.2" cy="197.5" r="2.3" fill="#ffe169" stroke="#a88632" stroke-width="0.9" />
<line x1="492.0" y1="201.0" x2="497.8" y2="217.6" stroke="#6b554b" stroke-width="9.8" stroke-linecap="round"/><line x1="492.0" y1="201.0" x2="497.8" y2="217.6" stroke="#dfa98e" stroke-width="7.3" stroke-linecap="round"/>
<line x1="538.0" y1="203.6" x2="553.8" y2="207.0" stroke="#6b554b" stroke-width="8.8" stroke-linecap="round"/><line x1="538.0" y1="203.6" x2="553.8" y2="207.0" stroke="#dfa98e" stroke-width="6.3" stroke-linecap="round"/>
<line x1="568.6" y1="232.0" x2="584.0" y2="234.6" stroke="#6b554b" stroke-width="6.4" stroke-linecap="round"/><line x1="568.6" y1="232.0" x2="584.0" y2="234.6" stroke="#dfa98e" stroke-width="3.9" stroke-linecap="round"/>
<line x1="535.6" y1="235.0" x2="544.6" y2="259.6" stroke="#6b554b" stroke-width="11.6" stroke-linecap="round"/><line x1="535.6" y1="235.0" x2="544.6" y2="259.6" stroke="#dfa98e" stroke-width="9.1" stroke-linecap="round"/>
<line x1="596.6" y1="254.6" x2="615.0" y2="240.6" stroke="#6b554b" stroke-width="11.6" stroke-linecap="round"/><line x1="596.6" y1="254.6" x2="615.0" y2="240.6" stroke="#dfa98e" stroke-width="9.1" stroke-linecap="round"/>
<line x1="617.5" y1="282.3" x2="632.3" y2="286.3" stroke="#8a5a56" stroke-width="9.4" stroke-linecap="round"/><line x1="617.5" y1="282.3" x2="632.3" y2="286.3" stroke="#dfa98e" stroke-width="6.9" stroke-linecap="round"/>
<circle cx="515.7" cy="231.2" r="6.6" fill="#0f8a58" stroke="#0b4f33" stroke-width="1.3" />
<circle cx="527.4" cy="256.1" r="2.8" fill="#ffe169" stroke="#a88632" stroke-width="0.9" />
<circle cx="567.4" cy="264.4" r="5.2" fill="#7b4fb3" stroke="#3e2370" stroke-width="1.3" />
<circle cx="612.3" cy="251.0" r="2.4" fill="#ffe169" stroke="#a88632" stroke-width="0.9" />
<circle cx="639.5" cy="258.2" r="7.8" fill="#7b4fb3" stroke="#3e2370" stroke-width="1.3" />
<circle cx="573.4" cy="215.2" r="2.5" fill="#ffe169" stroke="#a88632" stroke-width="0.9" />
<circle cx="568.0" cy="220.4" r="5.0" fill="#7b4fb3" stroke="#3e2370" stroke-width="1.3" />
<circle cx="514.0" cy="197.6" r="2.4" fill="#ffe169" stroke="#a88632" stroke-width="0.9" />
<circle cx="515.3" cy="204.5" r="4.9" fill="#7b4fb3" stroke="#3e2370" stroke-width="1.3" />
<circle cx="516.6" cy="180.3" r="7.4" fill="#0f8a58" stroke="#0b4f33" stroke-width="1.3" />
<circle cx="556.6" cy="238.1" r="7.4" fill="#0f8a58" stroke="#0b4f33" stroke-width="1.3" />
<circle cx="606.9" cy="268.0" r="5.6" fill="#0f8a58" stroke="#0b4f33" stroke-width="1.3" />
<circle cx="458.7" cy="362.4" r="6.5" fill="#7b4fb3" stroke="#8c1526" stroke-width="1.3" />
<circle cx="465.0" cy="382.4" r="3.5" fill="#ffe169" stroke="#8c1526" stroke-width="0.9" />
<line x1="486.9" y1="394.5" x2="507.0" y2="375.8" stroke="#8c1526" stroke-width="14.0" stroke-linecap="round"/><line x1="486.9" y1="394.5" x2="507.0" y2="375.8" stroke="#dfa98e" stroke-width="11.5" stroke-linecap="round"/>
<circle cx="526.2" cy="382.4" r="7.0" fill="#0f8a58" stroke="#8c1526" stroke-width="1.3" />
<circle cx="548.4" cy="364.2" r="4.5" fill="#ffe169" stroke="#8c1526" stroke-width="0.9" />
<circle cx="555.1" cy="374.4" r="9.0" fill="#7b4fb3" stroke="#8c1526" stroke-width="1.3" />
<circle cx="576.5" cy="394.5" r="7.0" fill="#0f8a58" stroke="#8c1526" stroke-width="1.3" />
<line x1="530.0" y1="398.0" x2="556.0" y2="398.0" stroke="#8c1526" stroke-width="6.5" stroke-linecap="round"/><line x1="530.0" y1="398.0" x2="556.0" y2="398.0" stroke="#dfa98e" stroke-width="4.0" stroke-linecap="round"/>
<line x1="582.0" y1="363.7" x2="598.0" y2="391.8" stroke="#8c1526" stroke-width="14.0" stroke-linecap="round"/><line x1="582.0" y1="363.7" x2="598.0" y2="391.8" stroke="#dfa98e" stroke-width="11.5" stroke-linecap="round"/>
<circle cx="580.6" cy="377.0" r="3.5" fill="#ffe169" stroke="#8c1526" stroke-width="0.9" />
<line x1="608.7" y1="367.7" x2="623.4" y2="371.7" stroke="#8c1526" stroke-width="8.1" stroke-linecap="round"/><line x1="608.7" y1="367.7" x2="623.4" y2="371.7" stroke="#dfa98e" stroke-width="5.6" stroke-linecap="round"/>
<circle cx="623.3" cy="346.9" r="3.5" fill="#ffe169" stroke="#8c1526" stroke-width="0.9" />
<circle cx="627.3" cy="355.0" r="6.5" fill="#7b4fb3" stroke="#8c1526" stroke-width="1.3" />
<circle cx="644.0" cy="378.5" r="9.5" fill="#0f8a58" stroke="#8c1526" stroke-width="1.3" />
<circle cx="624.5" cy="396.5" r="6.0" fill="#7b4fb3" stroke="#8c1526" stroke-width="1.3" />
<line x1="657.5" y1="329.0" x2="675.0" y2="347.7" stroke="#8c1526" stroke-width="10.3" stroke-linecap="round"/><line x1="657.5" y1="329.0" x2="675.0" y2="347.7" stroke="#dfa98e" stroke-width="7.8" stroke-linecap="round"/>
<circle cx="707.0" cy="330.3" r="9.5" fill="#0f8a58" stroke="#8c1526" stroke-width="1.3" />
<circle cx="702.2" cy="353.0" r="3.5" fill="#ffe169" stroke="#8c1526" stroke-width="0.9" />
<circle cx="697.1" cy="360.3" r="6.0" fill="#7b4fb3" stroke="#8c1526" stroke-width="1.3" />
<circle cx="760.1" cy="344.5" r="6.0" fill="#7b4fb3" stroke="#8c1526" stroke-width="1.3" />
<circle cx="790.0" cy="365.6" r="9.5" fill="#0f8a58" stroke="#8c1526" stroke-width="1.3" />
<line x1="712.4" y1="383.8" x2="727.0" y2="366.4" stroke="#8c1526" stroke-width="10.8" stroke-linecap="round"/><line x1="712.4" y1="383.8" x2="727.0" y2="366.4" stroke="#dfa98e" stroke-width="8.3" stroke-linecap="round"/>
<circle cx="758.0" cy="374.0" r="3.0" fill="#ffe169" stroke="#8c1526" stroke-width="0.9" />
<line x1="756.6" y1="383.8" x2="771.3" y2="378.5" stroke="#8c1526" stroke-width="8.1" stroke-linecap="round"/><line x1="756.6" y1="383.8" x2="771.3" y2="378.5" stroke="#dfa98e" stroke-width="5.6" stroke-linecap="round"/>
<line x1="652.0" y1="397.0" x2="671.0" y2="380.0" stroke="#8c1526" stroke-width="14.0" stroke-linecap="round"/><line x1="652.0" y1="397.0" x2="671.0" y2="380.0" stroke="#dfa98e" stroke-width="11.5" stroke-linecap="round"/>
<circle cx="689.6" cy="396.0" r="7.5" fill="#0f8a58" stroke="#8c1526" stroke-width="1.3" />
<circle cx="720.4" cy="398.6" r="5.5" fill="#7b4fb3" stroke="#8c1526" stroke-width="1.3" />
<circle cx="727.7" cy="393.2" r="4.5" fill="#ffe169" stroke="#8c1526" stroke-width="0.9" />
<circle cx="773.0" cy="398.0" r="5.0" fill="#7b4fb3" stroke="#8c1526" stroke-width="1.3" />
<line x1="783.0" y1="396.5" x2="800.0" y2="397.5" stroke="#8c1526" stroke-width="7.6" stroke-linecap="round"/><line x1="783.0" y1="396.5" x2="800.0" y2="397.5" stroke="#dfa98e" stroke-width="5.1" stroke-linecap="round"/>
<line x1="525.7" y1="182.4" x2="553" y2="186" stroke="#333" stroke-width="0.9"/>
<line x1="477.3" y1="238.3" x2="492.2" y2="217.6" stroke="#333" stroke-width="0.9"/>
<text x="556.3" y="190.3" font-size="13" text-anchor="start" fill="#2b2b2b" font-weight="normal" textLength="23.5" lengthAdjust="spacingAndGlyphs" stroke="#2b2b2b" stroke-width="0.25">cTnI</text>
<text x="462.4" y="249.4" font-size="13" text-anchor="start" fill="#2b2b2b" font-weight="normal" textLength="28.7" lengthAdjust="spacingAndGlyphs" stroke="#2b2b2b" stroke-width="0.25">cTnT</text>
<text x="473" y="346.3" font-size="14" text-anchor="start" fill="#fdeff0" font-weight="bold" textLength="86.5" lengthAdjust="spacingAndGlyphs" >Blood vessel</text>
</g>
<rect x="456.35" y="175.85" width="338.8" height="223.8" fill="none" stroke="#2c2c2c" stroke-width="1.8"/>
</g>
</g>
</svg></body></html>
